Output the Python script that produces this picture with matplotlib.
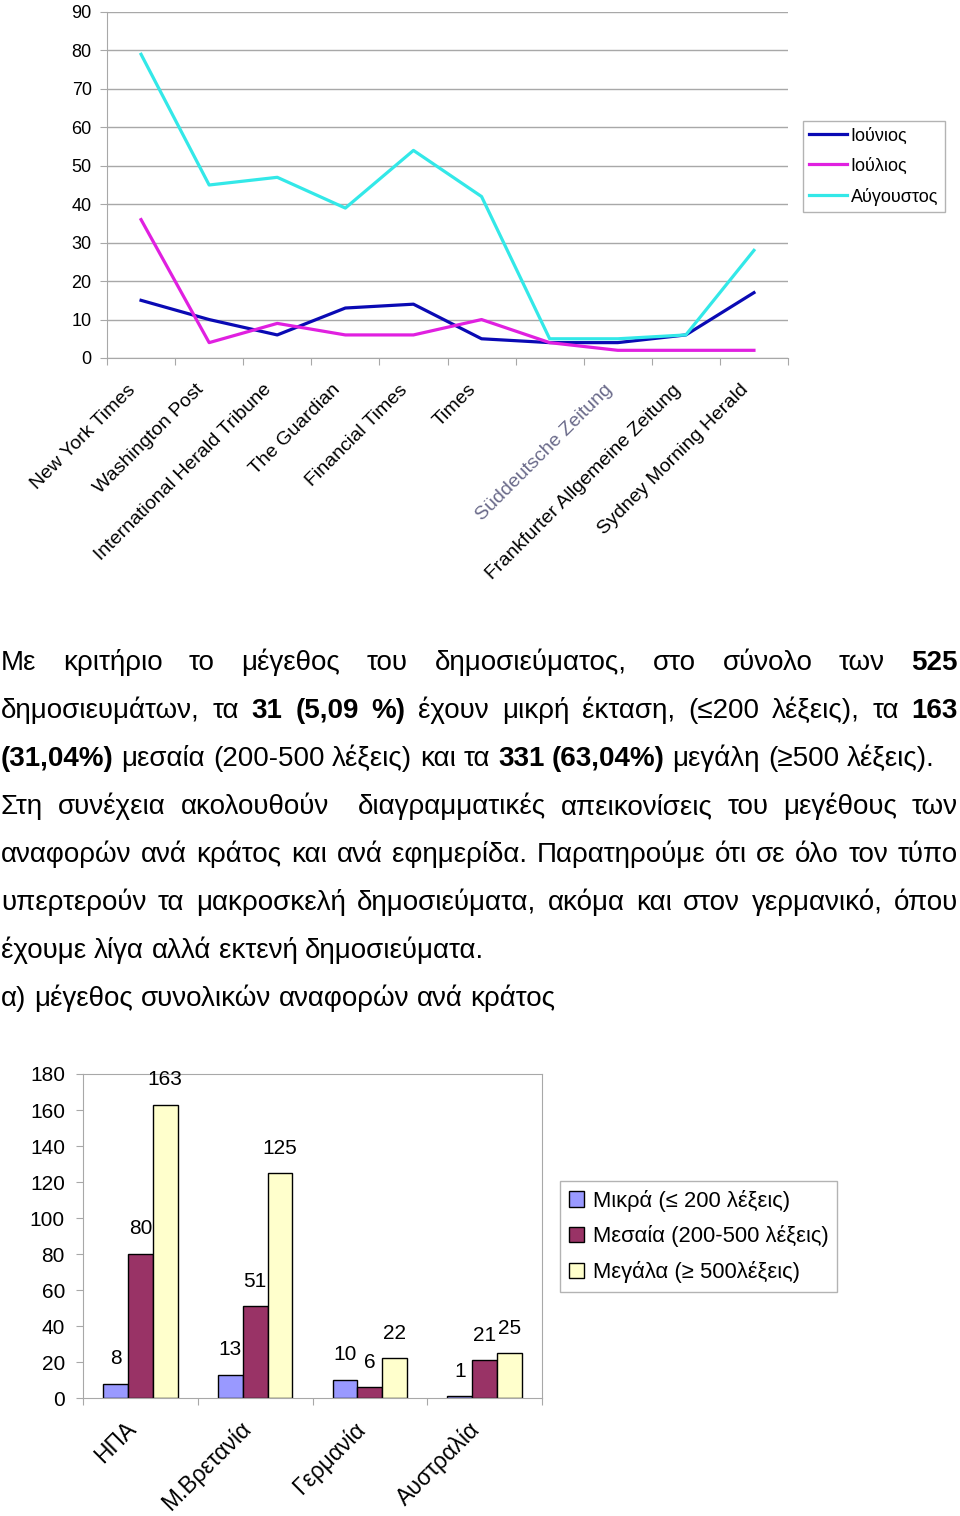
import numpy as np
import matplotlib.pyplot as plt
import matplotlib.transforms as mtransforms
from matplotlib.patches import Patch
from matplotlib.lines import Line2D

plt.rcParams['font.family'] = ['Liberation Sans', 'DejaVu Sans']

# line chart: articles per newspaper per month
papers = ['New York Times', 'Washington Post', 'International Herald Tribune', 'The Guardian',
          'Financial Times', 'Times', '', 'Süddeutsche Zeitung',
          'Frankfurter Allgemeine Zeitung', 'Sydney Morning Herald']
june = [15, 10, 6, 13, 14, 5, 4, 4, 6, 17]
july = [36, 4, 9, 6, 6, 10, 4, 2, 2, 2]
august = [79, 45, 47, 39, 54, 42, 5, 5, 6, 28]
months = ['Ιούνιος', 'Ιούλιος', 'Αύγουστος']
month_colors = ['#0a0ab4', '#e020e0', '#33e8e8']

# bar chart: article size per country
countries = ['ΗΠΑ', 'Μ.Βρετανία', 'Γερμανία', 'Αυστραλία']
small = [8, 13, 10, 1]
medium = [80, 51, 6, 21]
large = [163, 125, 22, 25]
sizes = ['Μικρά (≤ 200 λέξεις)', 'Μεσαία (200-500 λέξεις)', 'Μεγάλα (≥ 500λέξεις)']
size_colors = ['#9999ff', '#993366', '#ffffcc']

# paragraph text (** marks bold, True = justified)
para = [
    ('Με κριτήριο το μέγεθος του δημοσιεύματος, στο σύνολο των **525**', True),
    ('δημοσιευμάτων, τα **31 (5,09 %)** έχουν μικρή έκταση, (≤200 λέξεις), τα **163**', True),
    ('**(31,04%)** μεσαία (200-500 λέξεις) και τα **331 (63,04%)** μεγάλη (≥500 λέξεις).', False),
    ('Στη συνέχεια ακολουθούν  διαγραμματικές απεικονίσεις του μεγέθους των', True),
    ('αναφορών ανά κράτος και ανά εφημερίδα. Παρατηρούμε ότι σε όλο τον τύπο', True),
    ('υπερτερούν τα μακροσκελή δημοσιεύματα, ακόμα και στον γερμανικό, όπου', True),
    ('έχουμε λίγα αλλά εκτενή δημοσιεύματα.', False),
    ('α) μέγεθος συνολικών αναφορών ανά κράτος', False),
]

W, H = 960, 1516
fig = plt.figure(figsize=(W / 100, H / 100), dpi=100)

def rect(x0, y0, x1, y1):
    # pixel box (top-left origin) -> figure fraction
    return [x0 / W, 1 - y1 / H, (x1 - x0) / W, (y1 - y0) / H]

def shift_labels(labels, dx, dy):
    off = mtransforms.ScaledTranslation(dx / 100, dy / 100, fig.dpi_scale_trans)
    for lab in labels:
        lab.set_transform(lab.get_transform() + off)

grid_c = '#a8a8a8'

# ---------------- line chart ----------------
ax1 = fig.add_axes(rect(107, 12, 788, 358))
x = np.arange(len(papers))
for vals, lab, c in zip([june, july, august], months, month_colors):
    ax1.plot(x, vals, color=c, lw=2.3, label=lab)
ax1.set_xlim(-0.5, len(papers) - 0.5)
ax1.set_ylim(0, 90)
ax1.set_yticks(np.arange(0, 91, 10))
ax1.yaxis.grid(True, color=grid_c, lw=1)
ax1.set_axisbelow(True)
ax1.set_xticks(np.arange(-0.5, len(papers)), [])
ax1.set_xticks(x, minor=True)
ax1.set_xticklabels(papers, minor=True, rotation=45, ha='right', va='center',
                    rotation_mode='anchor', fontsize=14)
ax1.tick_params(axis='x', which='minor', length=0, pad=21)
ax1.tick_params(axis='x', which='major', length=5, color=grid_c)
ax1.tick_params(axis='y', length=5, color=grid_c, labelsize=13, pad=6)
for s in ['top', 'right']:
    ax1.spines[s].set_visible(False)
for s in ['left', 'bottom']:
    ax1.spines[s].set_color(grid_c)
labs = ax1.get_xticklabels(minor=True)
labs[7].set_color('#6a6a8a')
shift_labels(labs, -8, 0)

handles = [Line2D([], [], color=c, lw=2.3) for c in month_colors]
leg1 = fig.legend(handles, months, loc='upper left',
                  bbox_to_anchor=(803 / W, 1 - 121 / H), fontsize=13,
                  frameon=True, fancybox=False, edgecolor='#a0a0a0',
                  handlelength=2.1, handletextpad=0.2, borderpad=0.35,
                  labelspacing=0.72, borderaxespad=0)
leg1.get_frame().set_linewidth(1)

# ---------------- paragraph ----------------
r = fig.canvas.get_renderer()

def text_w(s, bold, fs):
    if not s:
        return 0.0
    t = fig.text(0, 0, s, fontsize=fs, fontweight='bold' if bold else 'normal')
    w = t.get_window_extent(renderer=r).width
    t.remove()
    return w

fs = 10 * 555 / text_w(para[-1][0], False, 10)
space_w = text_w('α α', False, fs) - text_w('αα', False, fs)

for i, (line, justify) in enumerate(para):
    toks = []
    b = False
    for w in line.split(' '):
        if w.startswith('**'):
            b = True
            w = w[2:]
        wb = b
        if w.endswith('**'):
            b = False
            w = w[:-2]
        toks.append((w, wb))
    widths = [text_w(w, wb, fs) for w, wb in toks]
    base = 670 + 48 * i
    if justify:
        gap = (958 - 1 - sum(widths)) / (len(toks) - 1)
    else:
        gap = space_w
    xp = 1
    for (w, wb), wd in zip(toks, widths):
        if w:
            fig.text(xp / W, 1 - base / H, w, fontsize=fs,
                     fontweight='bold' if wb else 'normal', va='baseline', ha='left')
        xp += wd + gap

# ---------------- bar chart ----------------
ax2 = fig.add_axes(rect(83, 1074, 542, 1398))
xc = np.arange(len(countries))
bw = 0.217
for k, (vals, lab, c) in enumerate(zip([small, medium, large], sizes, size_colors)):
    bars = ax2.bar(xc + (k - 1) * bw, vals, bw, color=c, edgecolor='black', lw=1, label=lab)
    for bar, v in zip(bars, vals):
        ax2.annotate(str(v), (bar.get_x() + bar.get_width() / 2, v),
                     xytext=(0, 18), textcoords='offset points',
                     ha='center', va='center', fontsize=15)
ax2.set_xlim(-0.5, len(countries) - 0.5)
ax2.set_ylim(0, 180)
ax2.set_yticks(np.arange(0, 181, 20))
ax2.set_xticks(np.arange(-0.5, len(countries)), [])
ax2.set_xticks(xc, minor=True)
ax2.set_xticklabels(countries, minor=True, rotation=45, ha='right', va='center',
                    rotation_mode='anchor', fontsize=16.5)
ax2.tick_params(axis='x', which='minor', length=0, pad=20)
ax2.tick_params(axis='x', which='major', length=5, color=grid_c)
ax2.tick_params(axis='y', length=5, color=grid_c, labelsize=15, pad=8)
for s in ax2.spines.values():
    s.set_color(grid_c)
shift_labels(ax2.get_xticklabels(minor=True), -8, 0)

handles2 = [Patch(facecolor=c, edgecolor='black', lw=1) for c in size_colors]
leg2 = fig.legend(handles2, sizes, loc='upper left',
                  bbox_to_anchor=(560 / W, 1 - 1181 / H), fontsize=15.8,
                  frameon=True, fancybox=False, edgecolor='#a0a0a0',
                  handlelength=0.7, handleheight=0.7, handletextpad=0.4,
                  borderpad=0.4, labelspacing=0.62, borderaxespad=0)
leg2.get_frame().set_linewidth(1)

fig.savefig('out.png', dpi=100)
